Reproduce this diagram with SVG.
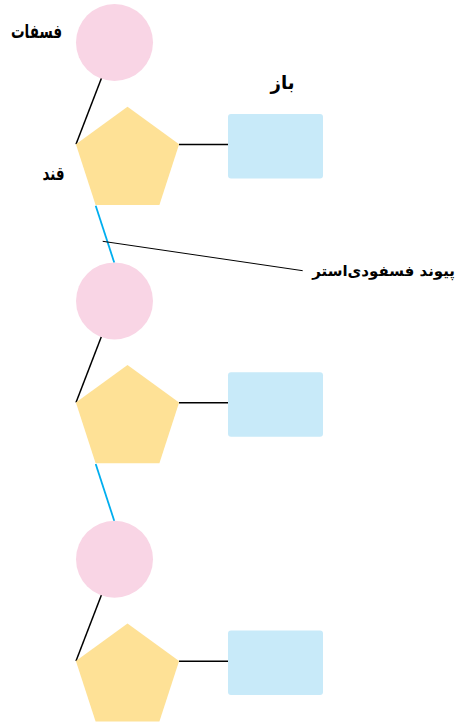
<svg xmlns="http://www.w3.org/2000/svg" width="457" height="725" viewBox="0 0 457 725">
<defs>
<style>
.ph{fill:#f9d5e5}
.su{fill:#fee196}
.ba{fill:#c8eaf9}
.bk{stroke:#000;stroke-width:1.5;fill:none}
.bl{stroke:#00aeef;stroke-width:1.8;fill:none}
.lb{font-family:"DejaVu Sans",sans-serif;font-weight:bold;font-size:19px;fill:#000}
.lg{font-family:"DejaVu Sans",sans-serif;font-weight:bold;font-size:15px;fill:#000}
</style>
<polygon id="pent" points="0,-54.3 51.6,-16.8 31.9,43.9 -31.9,43.9 -51.6,-16.8"/>
</defs>
<rect width="457" height="725" fill="#fff"/>
<g id="connectors">
<line class="bk" x1="102" y1="76.7" x2="76" y2="144.3"/>
<line class="bk" x1="179" y1="144.5" x2="228" y2="144.5"/>
<line class="bl" x1="95.7" y1="205.7" x2="114.3" y2="262.7"/>
<line class="bk" x1="102" y1="335" x2="76" y2="402.6"/>
<line class="bk" x1="179" y1="402.8" x2="228" y2="402.8"/>
<line class="bl" x1="95.7" y1="464" x2="114.3" y2="521"/>
<line class="bk" x1="102" y1="593.4" x2="76" y2="661"/>
<line class="bk" x1="179" y1="661.2" x2="228" y2="661.2"/>
<line stroke="#000" stroke-width="1" x1="102.7" y1="241.3" x2="302.7" y2="270.7"/>
</g>
<g id="unit1">
<circle id="phosphate1" class="ph" cx="114.5" cy="42.5" r="38.5"/>
<use id="sugar1" href="#pent" class="su" x="127.5" y="161"/>
<rect id="base1" class="ba" x="228" y="114" width="95" height="64.5" rx="3"/>
</g>
<g id="unit2">
<circle id="phosphate2" class="ph" cx="114.5" cy="300.9" r="38.5"/>
<use id="sugar2" href="#pent" class="su" x="127.5" y="419.3"/>
<rect id="base2" class="ba" x="228" y="372.3" width="95" height="64.5" rx="3"/>
</g>
<g id="unit3">
<circle id="phosphate3" class="ph" cx="114.5" cy="559.3" r="38.5"/>
<use id="sugar3" href="#pent" class="su" x="127.5" y="677.7"/>
<rect id="base3" class="ba" x="228" y="630.5" width="95" height="64.5" rx="3"/>
</g>
<g id="labels">
<text class="lb" x="62" y="38" text-anchor="end" textLength="51" lengthAdjust="spacingAndGlyphs">فسفات</text>
<text class="lb" x="64.5" y="180" text-anchor="end" textLength="22" lengthAdjust="spacingAndGlyphs">قند</text>
<text class="lb" x="294.5" y="89" text-anchor="end" textLength="24" lengthAdjust="spacingAndGlyphs">باز</text>
<text class="lg" x="455" y="276" text-anchor="end">پیوند فسفودی‌استر</text>
</g>
</svg>
